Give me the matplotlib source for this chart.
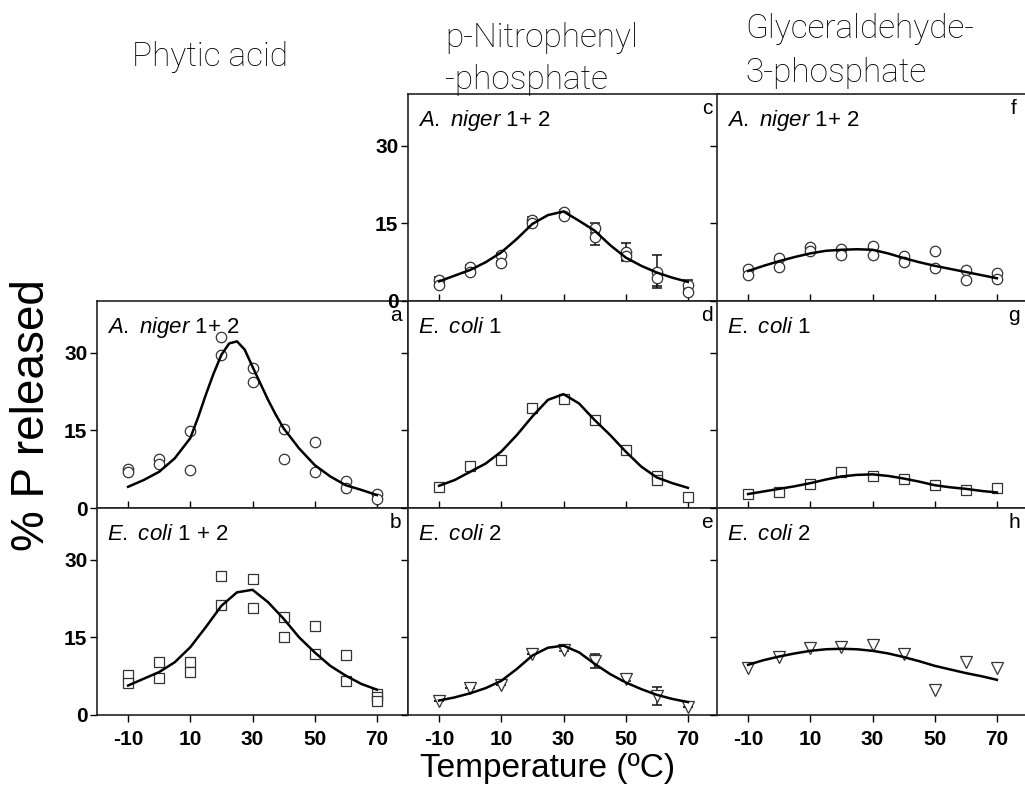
import matplotlib
matplotlib.use('Agg')
import matplotlib.pyplot as plt

plt.rcParams['font.family'] = ['Liberation Sans', 'DejaVu Sans']
plt.rcParams['mathtext.fontset'] = 'custom'
plt.rcParams['mathtext.it'] = 'Liberation Sans:italic'
plt.rcParams['mathtext.rm'] = 'Liberation Sans'
plt.rcParams['axes.unicode_minus'] = False

# measured temperatures (deg C)
temps = [-10, 0, 10, 20, 30, 40, 50, 60, 70]
fit_t = [-10, -5, 0, 5, 10, 15, 20, 25, 30, 35, 40, 45, 50, 55, 60, 65, 70]
fit_t_a = [-10, -5, 0, 5, 10, 12.5, 15, 17.5, 20, 22.5, 25, 27.5, 30, 32.5,
           35, 37.5, 40, 45, 50, 55, 60, 65, 70]

# a: phytic acid, A. niger 1+2
a_rep1 = [7.5, 9.5, 14.8, 33.0, 27.0, 15.3, 12.8, 5.2, 2.8]
a_rep2 = [6.9, 8.5, 7.4, 29.6, 24.3, 9.4, 6.9, 3.8, 1.7]
a_fit = [4.1, 5.4, 7.0, 9.6, 13.5, 17.5, 21.9, 26.0, 29.6, 31.8, 32.2, 30.6,
         27.3, 24.1, 20.9, 18.0, 15.4, 11.5, 8.3, 6.1, 4.4, 3.5, 2.5]

# b: phytic acid, E. coli 1 + 2
b_rep1 = [7.7, 10.3, 10.3, 26.9, 26.2, 18.9, 17.2, 11.5, 4.1]
b_rep2 = [6.1, 7.1, 8.4, 21.3, 20.6, 15.1, 11.7, 6.6, 3.4]
b_rep3_t = [70]
b_rep3 = [2.8]
b_fit = [5.7, 7.0, 8.3, 10.2, 13.1, 17.0, 21.1, 23.7, 24.2, 21.8, 18.6,
         15.0, 12.1, 9.5, 7.6, 6.0, 4.9]

# c: p-nitrophenyl-phosphate, A. niger 1+2
c_rep1 = [4.1, 6.6, 8.9, 15.7, 17.2, 14.1, 9.5, 5.7, 3.1]
c_rep2 = [3.1, 5.7, 7.4, 15.0, 16.5, 12.4, 8.6, 4.4, 1.8]
c_err1 = [0.6, 0.3, 0.3, 0.6, 0.3, 1.0, 1.8, 3.1, 0.9]
c_err2 = [0.3, 0.3, 0.3, 0.5, 0.3, 1.5, 0.6, 1.5, 0.5]
c_fit = [3.8, 4.9, 6.0, 7.5, 9.4, 12.0, 14.9, 16.6, 17.3, 15.5, 13.6, 10.8,
         8.4, 6.8, 5.5, 4.5, 3.7]

# d: p-nitrophenyl-phosphate, E. coli 1
d_vals = [4.0, 8.2, 9.2, 19.3, 21.1, 17.0, 11.2, 6.1, 2.1]
d_err = [0, 0, 0, 0, 0, 0, 0, 0.6, 0]
d_rep2_t = [60]
d_rep2 = [5.4]
d_fit = [4.3, 5.4, 7.0, 8.6, 10.9, 14.1, 17.7, 20.9, 22.0, 20.2, 17.0, 14.1,
         10.9, 8.0, 5.9, 4.8, 3.9]

# e: p-nitrophenyl-phosphate, E. coli 2
e_vals = [2.8, 5.2, 5.8, 11.8, 12.6, 10.4, 7.0, 3.7, 1.5]
e_err = [0, 0, 0, 0, 0.3, 1.3, 0.5, 1.7, 0]
e_fit = [2.8, 3.4, 4.2, 5.2, 6.6, 8.9, 11.5, 13.0, 13.4, 12.1, 9.9, 7.9,
         6.3, 5.0, 3.9, 3.1, 2.5]

# f: glyceraldehyde-3-phosphate, A. niger 1+2
f_rep1 = [6.2, 8.4, 10.5, 10.0, 10.7, 8.6, 9.6, 6.0, 5.5]
f_rep2 = [5.1, 6.5, 9.7, 8.9, 8.9, 7.6, 6.3, 4.0, 4.2]
f_fit = [5.8, 6.8, 7.7, 8.5, 9.2, 9.7, 9.9, 10.0, 9.9, 9.2, 8.3, 7.5,
         6.8, 6.2, 5.6, 5.0, 4.4]

# g: glyceraldehyde-3-phosphate, E. coli 1
g_vals = [2.7, 3.0, 4.6, 7.0, 6.2, 5.7, 4.4, 3.5, 3.9]
g_fit = [2.7, 3.2, 3.7, 4.2, 4.8, 5.5, 6.1, 6.4, 6.5, 6.2, 5.7, 5.1,
         4.4, 4.0, 3.7, 3.3, 3.0]

# h: glyceraldehyde-3-phosphate, E. coli 2
h_vals = [9.0, 11.3, 12.9, 13.1, 13.6, 11.8, 4.9, 10.2, 9.0]
h_fit = [9.7, 10.6, 11.3, 11.9, 12.4, 12.7, 12.8, 12.7, 12.4, 11.9, 11.2,
         10.4, 9.5, 8.8, 8.1, 7.5, 6.8]

col_titles = ['Phytic acid', 'p-Nitrophenyl\n-phosphate',
              'Glyceraldehyde-\n3-phosphate']
niger_lbl = r'$\mathit{A.}$ $\mathit{niger}$ 1+ 2'
coli1_lbl = r'$\mathit{E.}$ $\mathit{coli}$ 1'
coli2_lbl = r'$\mathit{E.}$ $\mathit{coli}$ 2'
coli12_lbl = r'$\mathit{E.}$ $\mathit{coli}$ 1 + 2'

W, H = 1025, 791
fig = plt.figure(figsize=(W / 100, H / 100), dpi=100)

col_left = [97, 408, 717]
row_top = [94, 301, 508]
pw, ph = 311, 207


def make_ax(row, col):
    l = col_left[col] / W
    b = 1 - (row_top[row] + ph) / H
    ax = fig.add_axes([l, b, pw / W, ph / H])
    ax.set_xlim(-20, 80)
    ax.set_ylim(0, 40)
    ax.set_xticks([-10, 10, 30, 50, 70])
    ax.set_yticks([0, 15, 30])
    for s in ax.spines.values():
        s.set_color('#222222')
        s.set_linewidth(1.2)
    show_y = col == 0 or (row == 0 and col == 1)
    ax.tick_params(axis='y', direction='out', length=5, width=1,
                   labelsize=15, pad=2, labelleft=show_y)
    ax.tick_params(axis='x', direction='out' if row == 2 else 'in',
                   length=5, width=1, labelsize=15, pad=6,
                   labelbottom=(row == 2))
    for lab in ax.get_xticklabels() + ax.get_yticklabels():
        lab.set_fontweight('bold')
    return ax


def pts(ax, x, y, marker, ms=7.5):
    ax.plot(x, y, linestyle='none', marker=marker, ms=ms, mfc='white',
            mec='#333333', mew=0.9, zorder=3)


def errs(ax, x, y, e):
    ax.errorbar(x, y, yerr=e, fmt='none', ecolor='#111111', elinewidth=1.1,
                capsize=3.5, capthick=1.1, zorder=2)


def fit(ax, x, y):
    ax.plot(x, y, color='black', lw=1.8, zorder=4)


def labels(ax, name, letter, col):
    ax.text(0.032, 0.872, name, transform=ax.transAxes, fontsize=16,
            ha='left', va='center')
    xl = 0.961 if col < 2 else 0.955
    ax.text(xl, 0.93, letter, transform=ax.transAxes, fontsize=15,
            ha='center', va='center')


# column 1
ax = make_ax(1, 0)
pts(ax, temps, a_rep1, 'o')
pts(ax, temps, a_rep2, 'o')
fit(ax, fit_t_a, a_fit)
labels(ax, niger_lbl, 'a', 0)

ax = make_ax(2, 0)
pts(ax, temps, b_rep1, 's', 7)
pts(ax, temps, b_rep2, 's', 7)
pts(ax, b_rep3_t, b_rep3, 's', 7)
fit(ax, fit_t, b_fit)
labels(ax, coli12_lbl, 'b', 0)

# column 2
ax = make_ax(0, 1)
errs(ax, temps, c_rep1, c_err1)
errs(ax, temps, c_rep2, c_err2)
pts(ax, temps, c_rep1, 'o')
pts(ax, temps, c_rep2, 'o')
fit(ax, fit_t, c_fit)
labels(ax, niger_lbl, 'c', 1)

ax = make_ax(1, 1)
errs(ax, temps, d_vals, d_err)
pts(ax, temps, d_vals, 's', 7)
pts(ax, d_rep2_t, d_rep2, 's', 7)
fit(ax, fit_t, d_fit)
labels(ax, coli1_lbl, 'd', 1)

ax = make_ax(2, 1)
errs(ax, temps, e_vals, e_err)
pts(ax, temps, e_vals, 'v', 8)
fit(ax, fit_t, e_fit)
labels(ax, coli2_lbl, 'e', 1)

# column 3
ax = make_ax(0, 2)
pts(ax, temps, f_rep1, 'o')
pts(ax, temps, f_rep2, 'o')
fit(ax, fit_t, f_fit)
labels(ax, niger_lbl, 'f', 2)

ax = make_ax(1, 2)
pts(ax, temps, g_vals, 's', 7)
fit(ax, fit_t, g_fit)
labels(ax, coli1_lbl, 'g', 2)

ax = make_ax(2, 2)
pts(ax, temps, h_vals, 'v', 8)
fit(ax, fit_t, h_fit)
labels(ax, coli2_lbl, 'h', 2)

# column titles
tfont = dict(fontsize=24, family=['Roboto', 'Liberation Sans'],
             fontweight='light', ha='left', va='baseline')
fig.text(132 / W, 1 - 66 / H, col_titles[0], **tfont)
t1, t2 = col_titles[1].split('\n')
fig.text(445 / W, 1 - 47 / H, t1, **tfont)
fig.text(445 / W, 1 - 89 / H, t2, **tfont)
t1, t2 = col_titles[2].split('\n')
fig.text(745 / W, 1 - 38 / H, t1, **tfont)
fig.text(745 / W, 1 - 82 / H, t2, **tfont)

fig.text(32 / W, 1 - 415 / H, '% P released', fontsize=33, rotation=90,
         ha='center', va='center')
fig.text(548 / W, 1 - 768 / H, 'Temperature (ºC)', fontsize=24,
         ha='center', va='center')

fig.savefig('out.png', dpi=100)
